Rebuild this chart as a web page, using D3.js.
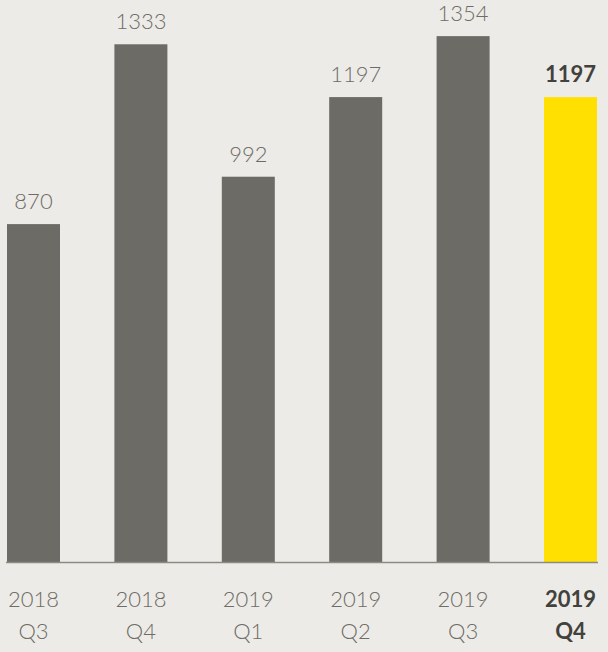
<!DOCTYPE html>
<html><head><meta charset="utf-8">
<script src="https://cdn.jsdelivr.net/npm/d3@7"></script>
<style>
html,body{margin:0;padding:0;background:#edebe7;}
svg{display:block;}
text{font-family:Lato,"Noto Sans",sans-serif;}
</style></head>
<body>
<script>
const years = ["2018","2018","2019","2019","2019","2019"];
const quarters = ["Q3","Q4","Q1","Q2","Q3","Q4"];
const values = [870,1333,992,1197,1354,1197];
const highlight = [false,false,false,false,false,true];

const W=608,H=652;
const svg=d3.select("body").append("svg").attr("width",W).attr("height",H);
svg.append("rect").attr("width",W).attr("height",H).attr("fill","#edebe7");

const idx=d3.range(values.length);
const x=d3.scaleBand().domain(idx).range([7,597]).paddingInner(0.5065).paddingOuter(0);
const y=d3.scaleLinear().domain([0,1447]).range([562,0]);

svg.selectAll("rect.bar").data(idx).join("rect").attr("class","bar")
 .attr("x",i=>x(i)).attr("width",x.bandwidth())
 .attr("y",i=>y(values[i])).attr("height",i=>y(0)-y(values[i]))
 .attr("fill",i=>highlight[i]?"#ffe000":"#6c6b65");

svg.append("line").attr("x1",6).attr("x2",598).attr("y1",562.5).attr("y2",562.5)
 .attr("stroke","#8c8a84").attr("stroke-width",1.5);

svg.selectAll("text.val").data(idx).join("text").attr("class","val")
 .attr("x",i=>x(i)+x.bandwidth()/2).attr("y",i=>y(values[i])-15)
 .attr("text-anchor","middle").attr("font-size",22)
 .attr("font-weight",i=>highlight[i]?700:300)
 .attr("fill",i=>highlight[i]?"#42413d":"#6d6c66")
 .text(i=>values[i]);

const lab=svg.selectAll("g.lab").data(idx).join("g").attr("class","lab");
lab.append("text").attr("x",i=>x(i)+x.bandwidth()/2).attr("y",607)
 .attr("text-anchor","middle").attr("font-size",22)
 .attr("font-weight",i=>highlight[i]?700:300)
 .attr("fill",i=>highlight[i]?"#42413d":"#6d6c66").text(i=>years[i]);
lab.append("text").attr("x",i=>x(i)+x.bandwidth()/2).attr("y",639)
 .attr("text-anchor","middle").attr("font-size",22)
 .attr("font-weight",i=>highlight[i]?700:300)
 .attr("fill",i=>highlight[i]?"#42413d":"#6d6c66").text(i=>quarters[i]);
</script>
</body></html>
